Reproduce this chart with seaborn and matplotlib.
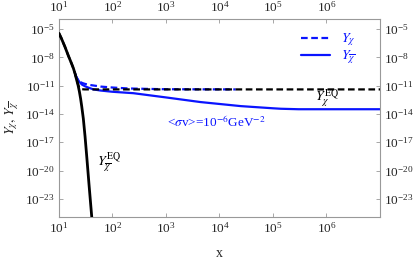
import numpy as np
import pandas as pd
import matplotlib
matplotlib.use("Agg")
import matplotlib.pyplot as plt
import seaborn as sns
from matplotlib.ticker import FixedLocator, LogFormatterSciNotation, NullLocator

# --- data (y values as log10) ---
x_eqbar = [10, 11, 12.9, 15, 17, 18.6, 20, 21.4, 22.7, 24, 25.3, 26.6, 28.5, 30.7, 33.1, 36.3, 41.0, 42.5]
logy_eqbar = [-5.46, -5.95, -6.88, -7.85, -8.6, -9.17, -9.75, -10.4, -10.95, -11.6, -12.35, -13.2, -14.5, -16.4, -18.6, -21.4, -24.96, -26.0]

x_eq = [10, 11, 12.9, 15, 17, 18.6, 20, 21.4, 22.5, 23.5, 25, 27, 30, 1e7]
logy_eq = [-5.46, -5.95, -6.88, -7.85, -8.6, -9.17, -9.75, -10.35, -10.8, -11.1, -11.3, -11.38, -11.4, -11.4]

x_chi = [20, 21, 22, 23.5, 25, 27.5, 30, 35, 40, 50, 60, 100, 200, 500, 1e3, 2e4]
logy_chi = [-9.75, -10.05, -10.3, -10.5, -10.62, -10.73, -10.8, -10.9, -10.95, -11.03, -11.1, -11.2, -11.3, -11.35, -11.38, -11.4]

x_chibar = [20, 21, 22, 24, 27, 31, 35, 44, 60, 100, 245, 1e3, 4.4e3, 2.5e4, 1e5, 1.4e5, 3e5, 1e7]
logy_chibar = [-9.75, -10.05, -10.25, -10.6, -10.9, -11.08, -11.2, -11.4, -11.52, -11.65, -11.8, -12.25, -12.74, -13.17, -13.4, -13.45, -13.5, -13.5]

xticks = [1e1, 1e2, 1e3, 1e4, 1e5, 1e6]
yticks = [1e-5, 1e-8, 1e-11, 1e-14, 1e-17, 1e-20, 1e-23]

sns.set_style("ticks")
plt.rcParams['font.family'] = ['Liberation Serif', 'DejaVu Serif']
plt.rcParams['mathtext.fontset'] = 'stix'
plt.rcParams['font.size'] = 9

fig = plt.figure(figsize=(4.14, 2.6), dpi=100)
ax = fig.add_axes([59/414, 1-217.3/260, (380-59)/414, (217.3-19)/260])

def df(x, ly):
    return pd.DataFrame({"x": x, "y": 10.0 ** np.array(ly)})

blue = "#0a14ff"
sns.lineplot(data=df(x_chibar, logy_chibar), x="x", y="y", ax=ax, color=blue, lw=1.6,
             label=r"$Y_{\overline{\chi}}$", zorder=2)
sns.lineplot(data=df(x_chi, logy_chi), x="x", y="y", ax=ax, color=blue, lw=1.6,
             linestyle=(0, (3, 1.6)), label=r"$Y_{\chi}$", zorder=2)
sns.lineplot(data=df(x_eq, logy_eq), x="x", y="y", ax=ax, color="black", lw=1.6,
             linestyle=(0, (3, 1.6)), zorder=3, legend=False)
sns.lineplot(data=df(x_eqbar, logy_eqbar), x="x", y="y", ax=ax, color="black", lw=2.0,
             zorder=4, legend=False)

ax.set_xscale("log")
ax.set_yscale("log")
ax.set_xlim(10, 1e7)
ax.set_ylim(10**-24.95, 10**-3.94)
ax.xaxis.set_major_locator(FixedLocator(xticks))
ax.yaxis.set_major_locator(FixedLocator(yticks))
ax.xaxis.set_minor_locator(NullLocator())
ax.yaxis.set_minor_locator(NullLocator())
ax.xaxis.set_major_formatter(LogFormatterSciNotation())
ax.yaxis.set_major_formatter(LogFormatterSciNotation())

ax.tick_params(which="both", direction="in", length=3, width=0.6, color="#999999",
               top=True, right=True, labeltop=True, labelright=True, labelsize=9.5, pad=3)
for s in ax.spines.values():
    s.set_color("#999999")
    s.set_linewidth(0.8)

ax.set_xlabel("x", fontsize=10, labelpad=8)
ax.set_ylabel(r"$Y_{\chi},\,Y_{\overline{\chi}}$", fontsize=10, labelpad=3)

ax.text(1050, 10**-14.86, r"<$\sigma$v>=10$^{-6}$GeV$^{-2}$", color=blue, ha="left",
        va="center", fontsize=9.5)
ax.text(6.2e5, 10**-12.4, r"$Y_{\chi}^{\rm EQ}$", color="black", ha="left", va="center", fontsize=10)
ax.text(51, 10**-19.1, r"$Y_{\overline{\chi}}^{\rm EQ}$", color="black", ha="left", va="center", fontsize=10)

handles, labels = ax.get_legend_handles_labels()
order = [1, 0]
leg = ax.legend([handles[i] for i in order], [labels[i] for i in order], loc="upper right",
                frameon=False, handlelength=2.1, fontsize=10, borderaxespad=0.3,
                labelspacing=0.05, handletextpad=0.8, bbox_to_anchor=(0.955, 0.985))
for t in leg.get_texts():
    t.set_color(blue)

fig.savefig("out.png", dpi=100)
